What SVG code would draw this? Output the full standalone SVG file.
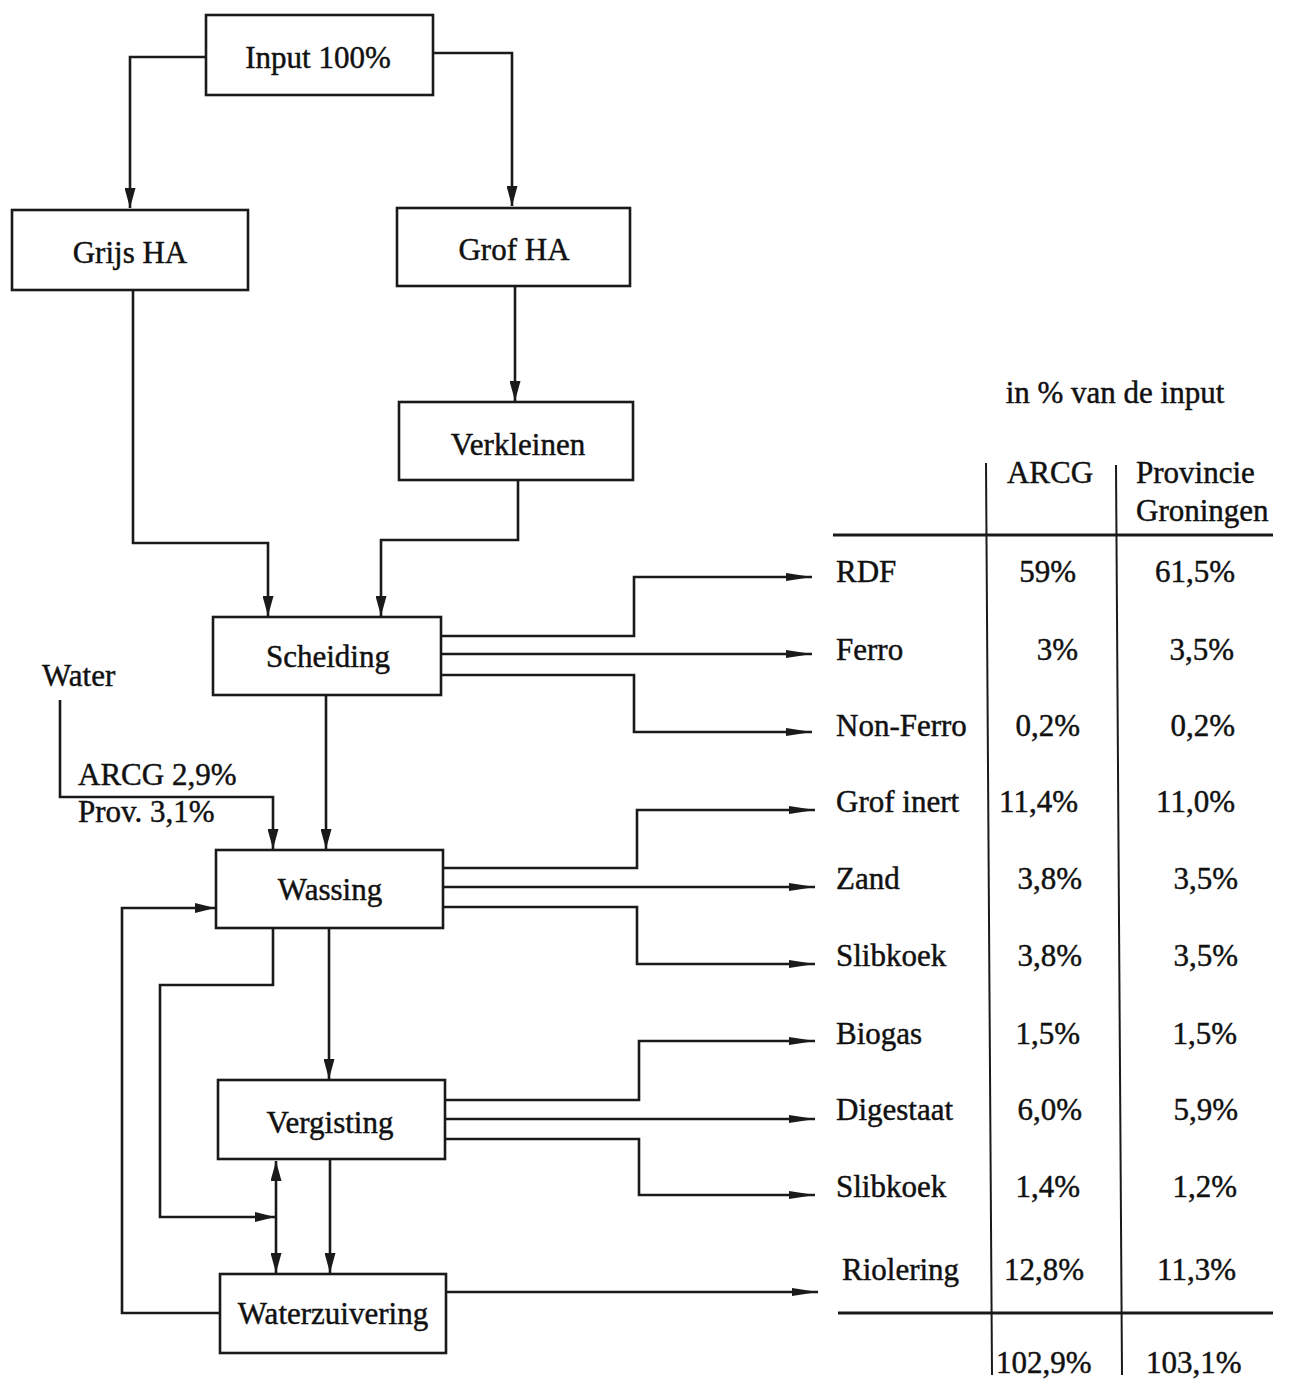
<svg xmlns="http://www.w3.org/2000/svg" width="1293" height="1381" viewBox="0 0 1293 1381">
<style>
.box{fill:#fff;stroke:#1a1a1a;stroke-width:2.6}
.t{font-family:"Liberation Serif","Times New Roman",serif;font-size:31px;fill:#111;stroke:#111;stroke-width:0.45}
.c{text-anchor:middle}
.r{text-anchor:end}
.ln{fill:none;stroke:#1a1a1a;stroke-width:2.6}
.tl{fill:none;stroke:#1a1a1a;stroke-width:2}
.th{fill:none;stroke:#1a1a1a;stroke-width:3}
</style>
<defs>
<marker id="ad" viewBox="0 0 20 11" refX="20" refY="5.5" markerWidth="20" markerHeight="11" markerUnits="userSpaceOnUse" orient="auto-start-reverse">
<path d="M0,0 L20,5.5 L0,11 Z" fill="#1a1a1a"/>
</marker>
<marker id="ar" viewBox="0 0 26 10" refX="26" refY="5" markerWidth="26" markerHeight="10" markerUnits="userSpaceOnUse" orient="auto">
<path d="M0,1 L26,5 L0,9 Z" fill="#1a1a1a"/>
</marker>
<marker id="as" viewBox="0 0 20 10" refX="20" refY="5" markerWidth="20" markerHeight="10" markerUnits="userSpaceOnUse" orient="auto-start-reverse">
<path d="M0,0 L20,5 L0,10 Z" fill="#1a1a1a"/>
</marker>
</defs>
<rect width="1293" height="1381" fill="#fff"/>

<g id="connectors">
<path class="ln" d="M206,57 H130 V208" marker-end="url(#ad)"/>
<path class="ln" d="M433,53 H512 V206" marker-end="url(#ad)"/>
<path class="ln" d="M515,286 V401" marker-end="url(#ad)"/>
<path class="ln" d="M133,290 V543 H268 V616" marker-end="url(#ad)"/>
<path class="ln" d="M518,480 V540 H381 V616" marker-end="url(#ad)"/>
<path class="ln" d="M326,695 V849" marker-end="url(#ad)"/>
<path class="ln" d="M60,700 V797 H273 V849" marker-end="url(#ad)"/>
<path class="ln" d="M441,636 H634 V577 H812" marker-end="url(#ar)"/>
<path class="ln" d="M441,654 H812" marker-end="url(#ar)"/>
<path class="ln" d="M441,675 H634 V732 H812" marker-end="url(#ar)"/>
<path class="ln" d="M443,868 H637 V810 H815" marker-end="url(#ar)"/>
<path class="ln" d="M443,887 H815" marker-end="url(#ar)"/>
<path class="ln" d="M443,907 H637 V964 H815" marker-end="url(#ar)"/>
<path class="ln" d="M445,1100 H639 V1041 H815" marker-end="url(#ar)"/>
<path class="ln" d="M445,1119 H815" marker-end="url(#ar)"/>
<path class="ln" d="M445,1139 H639 V1195 H815" marker-end="url(#ar)"/>
<path class="ln" d="M446,1292 H818" marker-end="url(#ar)"/>
<path class="ln" d="M329,928 V1079" marker-end="url(#ad)"/>
<path class="ln" d="M273,928 V985 H160 V1217 H275" marker-end="url(#as)"/>
<path class="ln" d="M276,1161 V1273" marker-start="url(#ad)" marker-end="url(#ad)"/>
<path class="ln" d="M330,1159 V1273" marker-end="url(#ad)"/>
<path class="ln" d="M220,1313 H122 V908 H215" marker-end="url(#as)"/>
</g>

<g id="input"><rect class="box" x="206" y="15" width="227" height="80"/><text class="t c" x="318" y="68">Input 100%</text></g>
<g id="grijs"><rect class="box" x="12" y="210" width="236" height="80"/><text class="t c" x="130" y="263">Grijs HA</text></g>
<g id="grof"><rect class="box" x="397" y="208" width="233" height="78"/><text class="t c" x="514" y="260">Grof HA</text></g>
<g id="verkleinen"><rect class="box" x="399" y="402" width="234" height="78"/><text class="t c" x="518" y="455">Verkleinen</text></g>
<g id="scheiding"><rect class="box" x="213" y="617" width="228" height="78"/><text class="t c" x="328" y="667">Scheiding</text></g>
<g id="wassing"><rect class="box" x="216" y="850" width="227" height="78"/><text class="t c" x="330" y="900">Wassing</text></g>
<g id="vergisting"><rect class="box" x="218" y="1080" width="227" height="79"/><text class="t c" x="330" y="1133">Vergisting</text></g>
<g id="waterzuivering"><rect class="box" x="220" y="1274" width="226" height="79"/><text class="t c" x="333" y="1324">Waterzuivering</text></g>

<g id="water-labels">
<text class="t" x="42" y="686">Water</text>
<text class="t" x="78" y="785">ARCG 2,9%</text>
<text class="t" x="78" y="822">Prov. 3,1%</text>
</g>

<g id="table">
<text class="t c" x="1115" y="403">in % van de input</text>
<text class="t c" x="1050" y="483">ARCG</text>
<text class="t" x="1136" y="483">Provincie</text>
<text class="t" x="1136" y="521">Groningen</text>
<path class="th" d="M833,535 H1273"/>
<path class="th" d="M838,1313 H1273"/>
<path class="tl" d="M986,463 L992,1375"/>
<path class="tl" d="M1116,465 L1122,1375"/>
<text class="t" x="836" y="582">RDF</text>
<text class="t" x="836" y="660">Ferro</text>
<text class="t" x="836" y="736">Non-Ferro</text>
<text class="t" x="836" y="812">Grof inert</text>
<text class="t" x="836" y="889">Zand</text>
<text class="t" x="836" y="966">Slibkoek</text>
<text class="t" x="836" y="1044">Biogas</text>
<text class="t" x="836" y="1120">Digestaat</text>
<text class="t" x="836" y="1197">Slibkoek</text>
<text class="t" x="842" y="1280">Riolering</text>
<text class="t r" x="1076" y="582">59%</text>
<text class="t r" x="1078" y="660">3%</text>
<text class="t r" x="1080" y="736">0,2%</text>
<text class="t r" x="1078" y="812">11,4%</text>
<text class="t r" x="1082" y="889">3,8%</text>
<text class="t r" x="1082" y="966">3,8%</text>
<text class="t r" x="1080" y="1044">1,5%</text>
<text class="t r" x="1082" y="1120">6,0%</text>
<text class="t r" x="1080" y="1197">1,4%</text>
<text class="t r" x="1084" y="1280">12,8%</text>
<text class="t r" x="1235" y="582">61,5%</text>
<text class="t r" x="1234" y="660">3,5%</text>
<text class="t r" x="1235" y="736">0,2%</text>
<text class="t r" x="1235" y="812">11,0%</text>
<text class="t r" x="1238" y="889">3,5%</text>
<text class="t r" x="1238" y="966">3,5%</text>
<text class="t r" x="1237" y="1044">1,5%</text>
<text class="t r" x="1238" y="1120">5,9%</text>
<text class="t r" x="1237" y="1197">1,2%</text>
<text class="t r" x="1236" y="1280">11,3%</text>
<text class="t" x="996" y="1373">102,9%</text>
<text class="t" x="1146" y="1373">103,1%</text>
</g>
</svg>
